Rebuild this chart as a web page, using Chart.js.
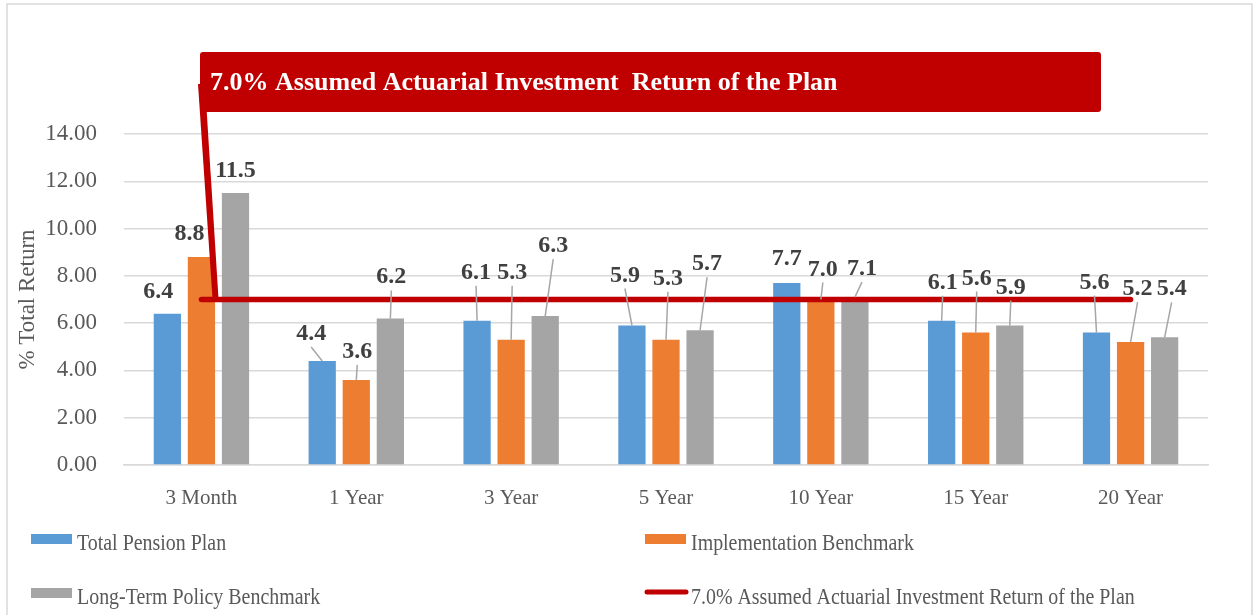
<!DOCTYPE html>
<html>
<head>
<meta charset="utf-8">
<script src="https://cdn.jsdelivr.net/npm/chart.js@4/dist/chart.umd.min.js"></script>
<style>
  html, body { margin: 0; padding: 0; background: #fff; }
  #wrap { width: 1256px; height: 615px; }
</style>
</head>
<body>
<div id="wrap"><canvas id="chart" width="1256" height="615"></canvas></div>
<script>
const categories = ['3 Month', '1 Year', '3 Year', '5 Year', '10 Year', '15 Year', '20 Year'];
const totalPension = [6.4, 4.4, 6.1, 5.9, 7.7, 6.1, 5.6];
const implementation = [8.8, 3.6, 5.3, 5.3, 7.0, 5.6, 5.2];
const longTermPolicy = [11.5, 6.2, 6.3, 5.7, 7.1, 5.9, 5.4];
const assumedReturn = [7.0, 7.0, 7.0, 7.0, 7.0, 7.0, 7.0];
const yTicks = [0, 2, 4, 6, 8, 10, 12, 14];

const seriesNames = ['Total Pension Plan', 'Implementation Benchmark', 'Long-Term Policy Benchmark',
  '7.0% Assumed Actuarial Investment Return of the Plan'];
const calloutText = '7.0% Assumed Actuarial Investment  Return of the Plan';

// where each value label sits relative to the top of its bar (px)
const labelShift = [
  [[-9, -24], [-11, -29], [-1, -50], [-7, -52], [0, -26], [1, -40], [-2, -52]],
  [[-12, -25], [1, -30], [1, -69], [2, -63], [2, -32], [1, -56], [7, -55]],
  [[0, -24], [1, -43], [8, -72], [7, -68], [7, -30], [1, -40], [7, -50]]
];

const SERIF = '"Liberation Serif", "Times New Roman", serif';
const colors = { blue: '#5B9BD5', orange: '#ED7D31', grey: '#A5A5A5', red: '#C00000', text: '#595959', grid: '#D9D9D9' };

const decorations = {
  id: 'decorations',
  afterDatasetsDraw(chart) {
    const ctx = chart.ctx;
    const xs = chart.scales.x, ys = chart.scales.y;

    // value labels with leader lines
    ctx.save();
    ctx.font = 'bold 24px ' + SERIF;
    ctx.textAlign = 'center';
    ctx.textBaseline = 'alphabetic';
    for (let d = 0; d < 3; d++) {
      const meta = chart.getDatasetMeta(d);
      meta.data.forEach((bar, i) => {
        const [dx, dy] = labelShift[d][i];
        const lx = bar.x + dx, ly = bar.y + dy;
        const start = ly + 15;
        if (bar.y - start > 12) {
          ctx.strokeStyle = '#A6A6A6';
          ctx.lineWidth = 1.5;
          ctx.beginPath();
          ctx.moveTo(lx, start);
          ctx.lineTo(bar.x, bar.y);
          ctx.stroke();
        }
        ctx.fillStyle = '#404040';
        ctx.fillText(chart.data.datasets[d].data[i].toFixed(1), lx, ly + 8);
      });
    }
    ctx.restore();

    // callout box pointing at the assumed return line
    ctx.save();
    ctx.fillStyle = colors.red;
    const tipX = xs.getPixelForValue(0) + 14;
    const tipY = ys.getPixelForValue(assumedReturn[0]) - 2;
    ctx.beginPath();
    ctx.moveTo(198, 84);
    ctx.lineTo(205, 84);
    ctx.lineTo(tipX + 3, tipY);
    ctx.lineTo(tipX - 3, tipY);
    ctx.closePath();
    ctx.fill();
    ctx.beginPath();
    ctx.roundRect(200, 52, 901, 60, 3);
    ctx.fill();
    ctx.fillStyle = '#FFFFFF';
    ctx.font = 'bold 26px ' + SERIF;
    ctx.textBaseline = 'alphabetic';
    ctx.fillText(calloutText, 210, 90);
    ctx.restore();
  },
  afterDraw(chart) {
    const ctx = chart.ctx;
    ctx.save();
    // outer frame
    ctx.strokeStyle = colors.grid;
    ctx.lineWidth = 1.5;
    ctx.strokeRect(7, 4, 1245, 640);

    // legend in two columns
    ctx.textBaseline = 'alphabetic';
    const ds = chart.data.datasets;
    const items = [
      { x: 31, y: 534, ds: ds[0] },
      { x: 645, y: 534, ds: ds[1] },
      { x: 31, y: 588, ds: ds[2] },
      { x: 645, y: 588, ds: ds[3] }
    ];
    items.forEach(it => {
      if (it.ds.type === 'line') {
        ctx.strokeStyle = it.ds.borderColor;
        ctx.lineWidth = 5;
        ctx.lineCap = 'round';
        ctx.beginPath();
        ctx.moveTo(it.x + 2, it.y + 4);
        ctx.lineTo(it.x + 41, it.y + 4);
        ctx.stroke();
      } else {
        ctx.fillStyle = it.ds.backgroundColor;
        ctx.fillRect(it.x, it.y, 41, 10);
      }
      // legend text looks narrow in the original, squeeze it a bit
      ctx.save();
      ctx.translate(it.x + 46, it.y + 16);
      ctx.scale(0.83, 1);
      ctx.font = '24px ' + SERIF;
      ctx.fillStyle = colors.text;
      ctx.fillText(it.ds.label, 0, 0);
      ctx.restore();
    });
    ctx.restore();
  }
};

new Chart(document.getElementById('chart'), {
  data: {
    labels: categories,
    datasets: [
      { type: 'bar', label: seriesNames[0], data: totalPension, backgroundColor: colors.blue, order: 1 },
      { type: 'bar', label: seriesNames[1], data: implementation, backgroundColor: colors.orange, order: 1 },
      { type: 'bar', label: seriesNames[2], data: longTermPolicy, backgroundColor: colors.grey, order: 1 },
      { type: 'line', label: seriesNames[3], data: assumedReturn, borderColor: colors.red, backgroundColor: colors.red,
        borderWidth: 5.5, pointRadius: 0, borderCapStyle: 'round', order: 0 }
    ]
  },
  options: {
    responsive: false,
    animation: false,
    layout: { padding: { left: 0, top: 134, right: 48, bottom: 100 } },
    datasets: { bar: { categoryPercentage: 0.66, barPercentage: 0.8 } },
    plugins: { legend: { display: false }, tooltip: { enabled: false } },
    scales: {
      x: {
        afterFit(scale) { scale.height = 50; },
        grid: { display: false },
        border: { display: true, color: colors.grid, width: 1.5 },
        ticks: { color: colors.text, font: { family: SERIF, size: 21 }, padding: 13 }
      },
      y: {
        min: 0,
        max: 14,
        afterFit(scale) { scale.width = 124; },
        afterBuildTicks(scale) { scale.ticks = yTicks.map(v => ({ value: v })); },
        grid: { color: colors.grid, lineWidth: 1.5, drawTicks: false },
        border: { display: false },
        ticks: { color: colors.text, font: { family: SERIF, size: 23 }, padding: 27,
          callback: v => Number(v).toFixed(2) },
        title: { display: true, text: '% Total Return', color: colors.text,
          font: { family: SERIF, size: 23 }, padding: { top: 14, bottom: 0 } }
      }
    }
  },
  plugins: [decorations]
});
</script>
</body>
</html>
